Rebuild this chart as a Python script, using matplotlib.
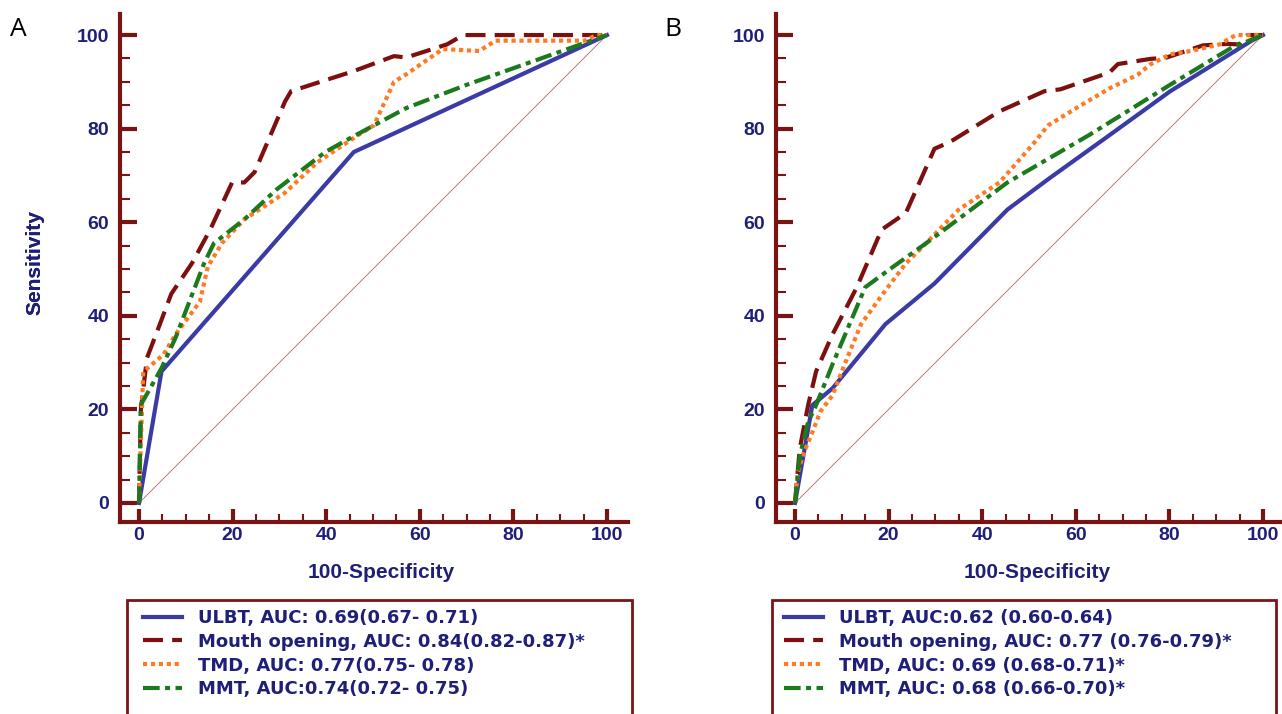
import matplotlib
matplotlib.use("Agg")
import matplotlib.pyplot as plt
from matplotlib.patches import Rectangle
from matplotlib.ticker import MultipleLocator

plt.rcParams['font.family'] = ['Liberation Sans', 'DejaVu Sans']

NAVY = '#1f1f78'
AXRED = '#7a1414'

# ---- panel A data (100-specificity, sensitivity) ----
a_ulbt_x = [0, 4.8, 45.9, 100]
a_ulbt_y = [0, 28.1, 75.0, 100]
a_mouth_x = [0, 0.4, 1.7, 4.0, 6.9, 11.3, 15.2, 19.9, 22.5, 24.7, 31.2, 32.5, 45.9, 54.5, 57.1, 65.8, 69.3, 100]
a_mouth_y = [0, 20, 31, 37, 44.7, 51.2, 58.4, 68.5, 68.5, 70.7, 85.8, 88, 92.3, 95.5, 95.2, 98, 100, 100]
a_tmd_x = [0, 0.3, 0.9, 5.2, 7.8, 13.0, 14.7, 17.7, 22.5, 31.2, 38.1, 46.8, 50.2, 54.5, 57.1, 64.9, 72.7, 76.2, 95.2, 97.8, 100]
a_tmd_y = [0, 10, 28, 31.7, 36, 43, 50.5, 55.5, 60.6, 66.3, 72.8, 78.6, 80.7, 90, 91.6, 97, 96.6, 98.8, 98.8, 100, 100]
a_mmt_x = [0, 0.4, 4.8, 7.8, 13.9, 16.0, 22.5, 29.4, 39.8, 45.0, 57.1, 70.1, 100]
a_mmt_y = [0, 21, 28.8, 35.3, 51.2, 55.5, 60.6, 67, 75, 77.9, 84.4, 89.4, 100]

# ---- panel B data ----
b_ulbt_x = [0, 3.7, 8.0, 19.3, 29.8, 45.4, 54.1, 67.2, 80.2, 97.6, 100]
b_ulbt_y = [0, 20.9, 24.5, 38.2, 46.9, 62.7, 69.2, 78.6, 88, 98.8, 100]
b_mouth_x = [0, 1.0, 2.8, 4.5, 8.0, 13.2, 18.5, 23.7, 29.8, 33.2, 43.7, 53.3, 56.7, 67.2, 69.0, 75.9, 79.4, 87.2, 92.4, 95.0, 96.7, 100]
b_mouth_y = [0, 11.5, 20.9, 28.1, 36, 46.1, 58.4, 62, 75.7, 77.2, 83.7, 88, 88.4, 92, 93.8, 94.9, 95.2, 97.8, 98.1, 98, 100, 100]
b_tmd_x = [0, 0.6, 1.9, 3.7, 5.4, 8.0, 10.6, 14.1, 19.3, 23.7, 28.0, 35.0, 43.7, 50.7, 54.1, 61.1, 67.2, 73.2, 75.9, 80.2, 84.6, 90.7, 94.2, 100]
b_tmd_y = [0, 6.5, 10.8, 15.1, 19.5, 23, 29.6, 38.2, 45.4, 51.2, 55.5, 62.7, 68.5, 76.5, 80.7, 85, 88.6, 91.5, 93.7, 95.9, 96.6, 98, 100, 100]
b_mmt_x = [0, 1.0, 2.8, 4.5, 8.0, 15.0, 21.0, 28.0, 45.4, 62.8, 80.2, 93.3, 100]
b_mmt_y = [0, 10, 17.3, 20.9, 29.6, 46.1, 50.5, 55.5, 68.5, 78.6, 89.4, 97.3, 100]

a_labels = ['ULBT, AUC: 0.69(0.67- 0.71)',
            'Mouth opening, AUC: 0.84(0.82-0.87)*',
            'TMD, AUC: 0.77(0.75- 0.78)',
            'MMT, AUC:0.74(0.72- 0.75)']
b_labels = ['ULBT, AUC:0.62 (0.60-0.64)',
            'Mouth opening, AUC: 0.77 (0.76-0.79)*',
            'TMD, AUC: 0.69 (0.68-0.71)*',
            'MMT, AUC: 0.68 (0.66-0.70)*']

styles = [dict(color='#3b3ba6', ls='-'),
          dict(color='#7d0f0f', ls=(0, (4.8, 2.2))),
          dict(color='#ff7a22', ls=(0, (1.0, 0.9))),
          dict(color='#1c7a1c', ls=(0, (4.0, 1.3, 1.2, 1.3)))]

W, H = 1282, 714
fig = plt.figure(figsize=(W / 100, H / 100), dpi=100)


def panel(left_px, series, labels, letter, letter_x, box_left, box_right, hand_x):
    ax = fig.add_axes([left_px / W, (H - 521.7) / H, 507.7 / W, 507.7 / H])
    ax.plot([0, 100], [0, 100], color='#c07878', lw=0.7)
    handles = []
    for (x, y), st in zip(series, styles):
        h, = ax.plot(x, y, lw=3, color=st['color'], linestyle=st['ls'])
        handles.append(h)
    ax.set_xlim(-4, 104.5)
    ax.set_ylim(-4, 104.5)
    for s in ['top', 'right']:
        ax.spines[s].set_visible(False)
    for s in ['left', 'bottom']:
        ax.spines[s].set_color(AXRED)
        ax.spines[s].set_linewidth(3)
    ax.xaxis.set_major_locator(MultipleLocator(20))
    ax.yaxis.set_major_locator(MultipleLocator(20))
    ax.xaxis.set_minor_locator(MultipleLocator(5))
    ax.yaxis.set_minor_locator(MultipleLocator(5))
    ax.tick_params(which='major', direction='in', width=3, color=AXRED,
                   labelsize=14, labelcolor=NAVY)
    ax.tick_params(which='minor', direction='in', width=1.5, color=AXRED)
    ax.tick_params(axis='y', which='major', pad=8, length=12)
    ax.tick_params(axis='y', which='minor', length=7)
    ax.tick_params(axis='x', which='major', pad=4, length=9.5)
    ax.tick_params(axis='x', which='minor', length=5.5)
    for t in ax.get_xticklabels() + ax.get_yticklabels():
        t.set_fontweight('bold')
    ax.set_xlabel('100-Specificity', fontsize=15, fontweight='bold', color=NAVY, va='center')
    ax.set_ylabel('Sensitivity', fontsize=15, fontweight='bold', color=NAVY, va='center')
    ax.xaxis.set_label_coords(0.513, (521.7 - 573) / 507.7)
    ax.yaxis.set_label_coords((35 - left_px) / 507.7, 0.511)
    fig.text(letter_x / W, (H - 29) / H, letter, fontsize=19, family='Open Sans',
             ha='left', va='center', color='black')

    # legend box running off the bottom edge
    fig.patches.append(Rectangle((box_left / W, -0.05), (box_right - box_left) / W,
                                 (H - 600) / H + 0.05,
                                 transform=fig.transFigure, fill=False,
                                 edgecolor=AXRED, lw=2))
    fig.legend(handles, labels, loc='upper left',
               bbox_to_anchor=(hand_x / W, (H - 609) / H),
               frameon=False, handlelength=2.15, handletextpad=0.9,
               labelspacing=0.32, borderpad=0, borderaxespad=0, labelcolor=NAVY,
               prop=dict(family='DejaVu Sans', weight='bold', size=13))
    return ax


panel(120.3, [(a_ulbt_x, a_ulbt_y), (a_mouth_x, a_mouth_y),
              (a_tmd_x, a_tmd_y), (a_mmt_x, a_mmt_y)], a_labels, 'A', 10,
      127, 632, 143)
panel(776.3, [(b_ulbt_x, b_ulbt_y), (b_mouth_x, b_mouth_y),
              (b_tmd_x, b_tmd_y), (b_mmt_x, b_mmt_y)], b_labels, 'B', 664,
      772, 1276, 784)

fig.savefig('out.png', dpi=100)
